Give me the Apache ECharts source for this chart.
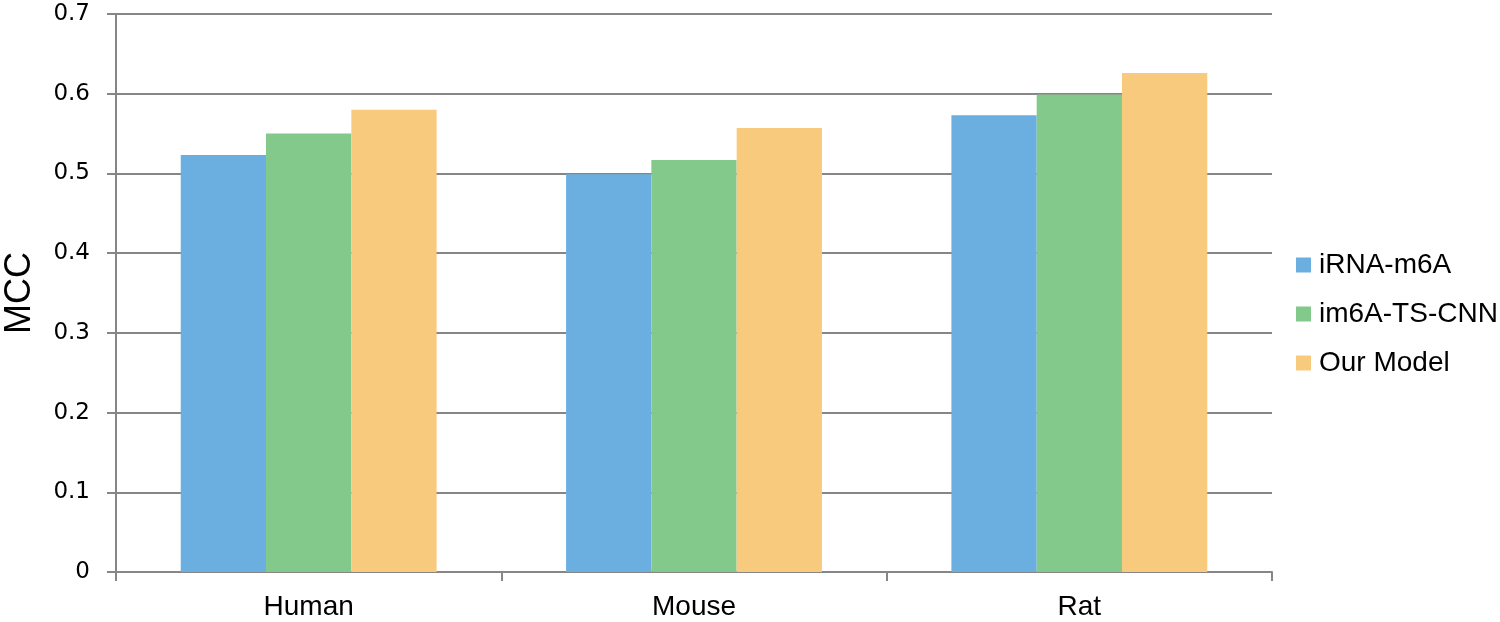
<!DOCTYPE html>
<html><head><meta charset="utf-8">
<script src="https://cdn.jsdelivr.net/npm/echarts@6/dist/echarts.min.js"></script>
<style>html,body{margin:0;padding:0;background:#fff}#c{width:1500px;height:622px}</style>
</head><body><div id="c"></div>
<script>
const categories = ['Human', 'Mouse', 'Rat'];
const seriesNames = ['iRNA-m6A', 'im6A-TS-CNN', 'Our Model'];
const iRNA = [0.523, 0.499, 0.573];
const im6A = [0.550, 0.517, 0.599];
const ourModel = [0.580, 0.557, 0.626];
const colors = ['#6aafe0', '#83c98b', '#f8ca7e'];
const yTicks = [0, 0.1, 0.2, 0.3, 0.4, 0.5, 0.6, 0.7];

const chart = echarts.init(document.getElementById('c'));
const values = [iRNA, im6A, ourModel];
chart.setOption({
  animation: false,
  grid: {left: 116, right: 228, top: 14, bottom: 50, containLabel: false, outerBoundsMode: 'none'},
  legend: {
    orient: 'vertical', left: 1291, top: 246,
    itemWidth: 15, itemHeight: 15, itemGap: 21,
    icon: 'rect',
    textStyle: {fontFamily: 'Liberation Sans', fontSize: 28, color: '#000', padding: [0, 0, 0, 3]},
    data: seriesNames
  },
  xAxis: {
    type: 'category', data: categories,
    axisLine: {lineStyle: {color: '#868686', width: 2}},
    axisTick: {show: true, length: 9, lineStyle: {color: '#868686', width: 2}},
    axisLabel: {fontFamily: 'Liberation Sans', fontSize: 28, color: '#000', margin: 21}
  },
  yAxis: {
    type: 'value', min: 0, max: 0.7, interval: 0.1,
    name: 'MCC', nameLocation: 'middle', nameGap: 78,
    nameTextStyle: {fontFamily: 'Liberation Sans', fontSize: 36, color: '#000'},
    axisLine: {show: true, lineStyle: {color: '#868686', width: 2}},
    axisTick: {show: true, length: 9, lineStyle: {color: '#868686', width: 2}},
    axisLabel: {fontFamily: 'DejaVu Sans', fontSize: 23, color: '#000', margin: 26,
      formatter: v => { const t = yTicks.find(x => Math.abs(x - v) < 1e-9); return t === 0 ? '0' : String(+v.toFixed(1)); }},
    splitLine: {show: true, lineStyle: {color: '#868686', width: 2}}
  },
  series: seriesNames.map((n, i) => ({
    name: n, type: 'bar', data: values[i],
    barGap: '0%', barCategoryGap: '33.6%',
    itemStyle: {color: colors[i]}
  }))
});
</script></body></html>
